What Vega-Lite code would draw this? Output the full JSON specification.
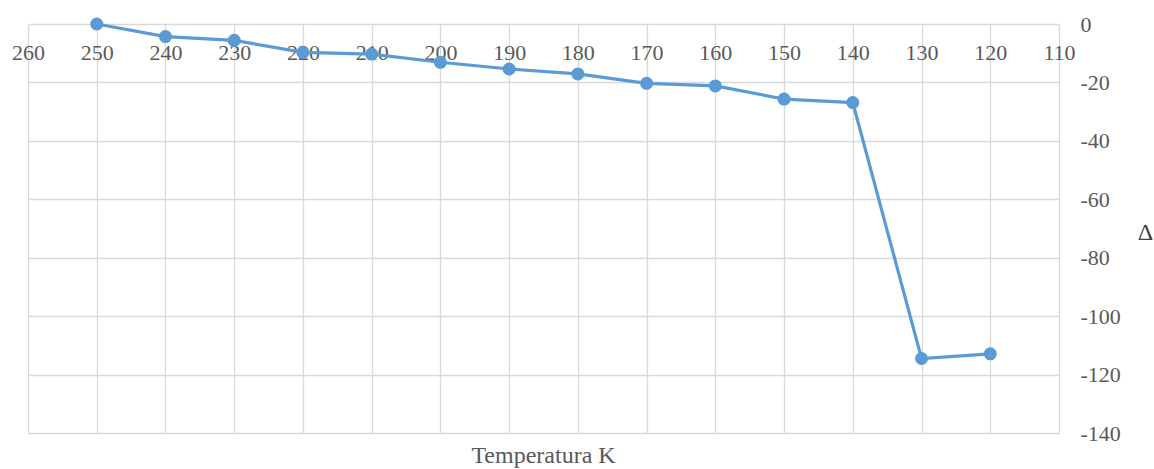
{
  "$schema": "https://vega.github.io/schema/vega-lite/v6.json",
  "autosize": "none",
  "width": 1031,
  "height": 409,
  "padding": {"left": 28, "top": 24, "right": 95, "bottom": 36},
  "background": "white",
  "config": {
    "view": {"stroke": null},
    "font": "Times New Roman, Liberation Serif, serif"
  },
  "title": {
    "text": "Temperatura K",
    "orient": "bottom",
    "anchor": "middle",
    "font": "Times New Roman, Liberation Serif, serif",
    "fontSize": 24,
    "fontWeight": "normal",
    "color": "#595959",
    "offset": 0
  },
  "data": {
    "values": [
      {"T": 250, "d": 0},
      {"T": 240, "d": -4.3},
      {"T": 230, "d": -5.6},
      {"T": 220, "d": -9.7},
      {"T": 210, "d": -10.3},
      {"T": 200, "d": -13.1},
      {"T": 190, "d": -15.4},
      {"T": 180, "d": -17.1},
      {"T": 170, "d": -20.3},
      {"T": 160, "d": -21.2},
      {"T": 150, "d": -25.7},
      {"T": 140, "d": -26.9},
      {"T": 130, "d": -114.5},
      {"T": 120, "d": -112.9}
    ]
  },
  "encoding": {
    "x": {
      "field": "T",
      "type": "quantitative",
      "scale": {"domain": [110, 260], "reverse": true, "nice": false, "zero": false},
      "axis": {
        "orient": "bottom",
        "offset": -409,
        "values": [260, 250, 240, 230, 220, 210, 200, 190, 180, 170, 160, 150, 140, 130, 120, 110],
        "title": null,
        "domain": false,
        "ticks": false,
        "grid": true,
        "gridColor": "#d9d9d9",
        "gridWidth": 1.3,
        "labelFont": "Times New Roman, Liberation Serif, serif",
        "labelFontSize": 22,
        "labelColor": "#595959",
        "labelPadding": 18,
        "labelFlush": false,
        "labelOverlap": false
      }
    },
    "y": {
      "field": "d",
      "type": "quantitative",
      "scale": {"domain": [-140, 0], "nice": false},
      "axis": {
        "orient": "right",
        "values": [0, -20, -40, -60, -80, -100, -120, -140],
        "labelExpr": "toString(datum.value)",
        "title": "Δ",
        "titleAngle": 0,
        "titleFont": "Times New Roman, Liberation Serif, serif",
        "titleFontSize": 24,
        "titleFontWeight": "normal",
        "titleColor": "#404040",
        "titleX": 86,
        "titleY": 208,
        "titleAlign": "center",
        "titleBaseline": "middle",
        "domain": false,
        "ticks": false,
        "grid": true,
        "gridColor": "#d9d9d9",
        "gridWidth": 1.3,
        "labelFont": "Times New Roman, Liberation Serif, serif",
        "labelFontSize": 22,
        "labelColor": "#595959",
        "labelPadding": 21,
        "labelFlush": false,
        "labelOverlap": false
      }
    }
  },
  "layer": [
    {"mark": {"type": "line", "color": "#5B9BD5", "strokeWidth": 3.2}},
    {"mark": {"type": "point", "filled": true, "color": "#5B9BD5", "size": 170, "opacity": 1}}
  ]
}
